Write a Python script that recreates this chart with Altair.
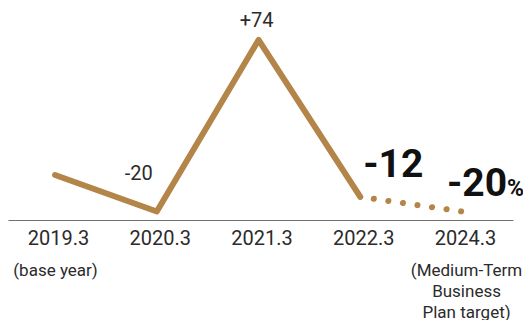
import json
import altair as alt
import pandas as pd

periods = ["2019.3", "2020.3", "2021.3", "2022.3", "2024.3"]
values = [0, -20, 74, -12, -20]
labels = ["", "-20", "+74", "-12", "-20"]
notes = ["(base year)", "", "", "", "(Medium-Term\nBusiness\nPlan target)"]

df = pd.DataFrame({
    "idx": list(range(len(periods))),
    "period": periods,
    "value": values,
    "label": labels,
})

GOLD = "#b38548"
TXT = "#2b2b2b"

note_expr = " : ".join(
    f"datum.value == '{p}' ? {json.dumps(n.split(chr(10)))}" for p, n in zip(periods, notes) if n
) + " : ''"

x_scale = alt.Scale(type="point", padding=0.4816, align=0.48)
x_main = alt.X(
    "period:N", sort=periods, scale=x_scale,
    axis=alt.Axis(title=None, orient="bottom", ticks=False, tickSize=0, labelPadding=8,
                  labelFontSize=20, labelFont="Roboto", labelColor=TXT, labelAngle=0,
                  labelOffset=3, domainColor="#707070", domainWidth=1, grid=False),
)
x_plain = alt.X("period:N", sort=periods, axis=None)
y_enc = alt.Y("value:Q", scale=alt.Scale(domain=[-24.66, 91.5], nice=False, zero=False), axis=None)

base = alt.Chart(df)

solid = base.transform_filter("datum.idx <= 3").mark_line(
    color=GOLD, strokeWidth=6, strokeCap="round", strokeJoin="round"
).encode(x=x_main, y=y_enc, order="idx:Q")

dotted = base.transform_filter("datum.idx >= 3").mark_line(
    color=GOLD, strokeWidth=6, strokeCap="round", strokeDash=[0.1, 14.6], strokeDashOffset=1.1
).encode(
    x=alt.X("period:N", sort=periods, axis=alt.Axis(
        title=None, orient="bottom", domain=False, ticks=False, tickSize=0, labelPadding=0,
        offset=42, labelExpr=note_expr, labelFontSize=17, labelFont="Roboto", labelColor=TXT,
        labelLineHeight=21, labelAngle=0, labelOverlap=False, labelBound=False,
        labelOffset={"condition": {"test": "datum.value == '2024.3'", "value": 4}, "value": 0},
        grid=False)),
    y=y_enc, order="idx:Q")


def value_label(period, dx, dy, size, weight):
    return base.transform_filter(alt.datum.period == period).mark_text(
        dx=dx, dy=dy, fontSize=size, fontWeight=weight, font="Roboto",
        color=TXT if weight == "normal" else "#111111", align="center", baseline="alphabetic"
    ).encode(x=x_plain, y=y_enc, text="label:N")


lbl_a = value_label("2020.3", -18, -31.5, 20, "normal")
lbl_b = value_label("2021.3", -2, -13, 20, "normal")
lbl_c = value_label("2022.3", 33, -20, 39, "bold")
lbl_d = value_label("2024.3", 15, -15.5, 39, "bold")
pct = base.transform_filter(alt.datum.period == "2024.3").mark_text(
    dx=45, dy=-15.5, fontSize=23, fontWeight="bold", font="Roboto", color="#111111",
    align="left", baseline="alphabetic", text="%"
).encode(x=x_plain, y=y_enc)

chart = alt.layer(solid, dotted, lbl_a, lbl_b, lbl_c, lbl_d, pct).resolve_axis(
    x="independent"
).properties(
    width=505, height=212,
    background="white",
    autosize=alt.AutoSizeParams(type="none"),
    padding={"left": 0, "top": 0, "right": 10, "bottom": 100},
).configure_view(strokeWidth=0, stroke="transparent")

chart.save("out.html", embed_options={"renderer": "svg", "actions": False})
